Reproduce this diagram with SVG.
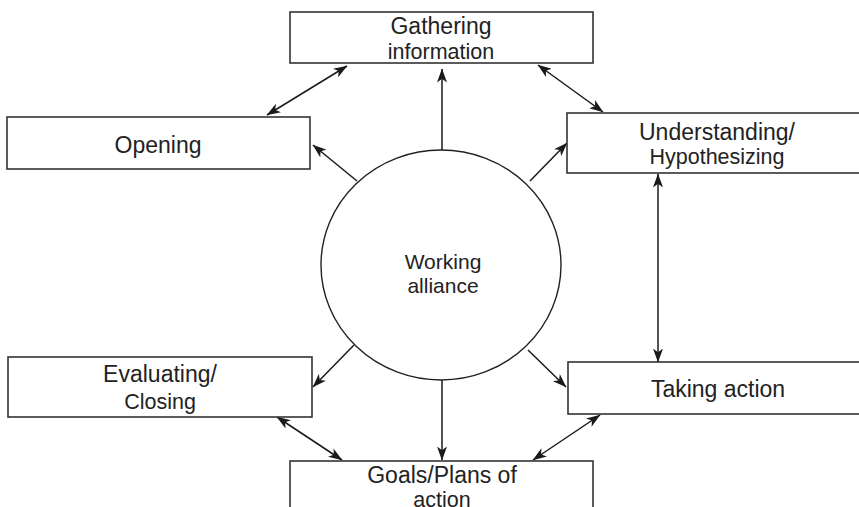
<svg xmlns="http://www.w3.org/2000/svg" width="859" height="507" viewBox="0 0 859 507">
  <defs>
    <marker id="arrow" viewBox="0 0 14 10" refX="13.5" refY="5" markerWidth="14" markerHeight="10" markerUnits="userSpaceOnUse" orient="auto-start-reverse">
      <path d="M0,0 L14,5 L0,10 L3.8,5 z" fill="#1a1a1a"/>
    </marker>
    <style>
      .box { fill: #fff; stroke: #333; stroke-width: 1.6; }
      .hub { fill: #fff; stroke: #222; stroke-width: 1.4; }
      .lbl { font-family: "Liberation Sans", Arial, sans-serif; font-size: 23px; fill: #222; text-anchor: middle; }
      .sm { font-size: 21.5px; }
      .hubtxt { font-size: 21px; }
      .link { stroke: #1a1a1a; stroke-width: 1.5; fill: none; marker-end: url(#arrow); }
      .both { marker-start: url(#arrow); }
    </style>
  </defs>
  <rect width="859" height="507" fill="#fff"/>

  <g id="connectors">
    <!-- hub to each stage -->
    <line class="link" x1="442" y1="150" x2="442" y2="69"/>
    <line class="link" x1="357" y1="181" x2="313" y2="145"/>
    <line class="link" x1="530" y1="181" x2="567" y2="143"/>
    <line class="link" x1="354" y1="345" x2="313" y2="387"/>
    <line class="link" x1="528" y1="350" x2="566" y2="387"/>
    <line class="link" x1="442" y1="380" x2="442" y2="460"/>
    <!-- stage to stage (two-way) -->
    <line class="link both" x1="267" y1="115" x2="347" y2="66"/>
    <line class="link both" x1="538" y1="65" x2="603" y2="112"/>
    <line class="link both" x1="658" y1="174" x2="658" y2="362"/>
    <line class="link both" x1="277" y1="417" x2="342" y2="460"/>
    <line class="link both" x1="600" y1="415" x2="533" y2="460"/>
  </g>

  <g id="working-alliance">
    <ellipse class="hub" cx="441" cy="265" rx="120" ry="115"/>
    <text class="lbl hubtxt" x="443" y="269">Working</text>
    <text class="lbl hubtxt" x="443" y="293">alliance</text>
  </g>

  <g id="gathering-information">
    <rect class="box" x="290" y="12" width="303" height="51"/>
    <text class="lbl" x="441" y="34">Gathering</text>
    <text class="lbl sm" x="441" y="59">information</text>
  </g>

  <g id="opening">
    <rect class="box" x="7" y="117" width="303" height="52"/>
    <text class="lbl" x="158" y="153">Opening</text>
  </g>

  <g id="understanding-hypothesizing">
    <rect class="box" x="567" y="113" width="300" height="60"/>
    <text class="lbl" x="717" y="140">Understanding/</text>
    <text class="lbl sm" x="717" y="164">Hypothesizing</text>
  </g>

  <g id="evaluating-closing">
    <rect class="box" x="8" y="357" width="304" height="60"/>
    <text class="lbl" x="160" y="382">Evaluating/</text>
    <text class="lbl sm" x="160" y="409">Closing</text>
  </g>

  <g id="taking-action">
    <rect class="box" x="568" y="362" width="300" height="52"/>
    <text class="lbl" x="718" y="397">Taking action</text>
  </g>

  <g id="goals-plans">
    <rect class="box" x="290" y="461" width="303" height="60"/>
    <text class="lbl" x="442" y="483">Goals/Plans of</text>
    <text class="lbl sm" x="442" y="507">action</text>
  </g>
</svg>
